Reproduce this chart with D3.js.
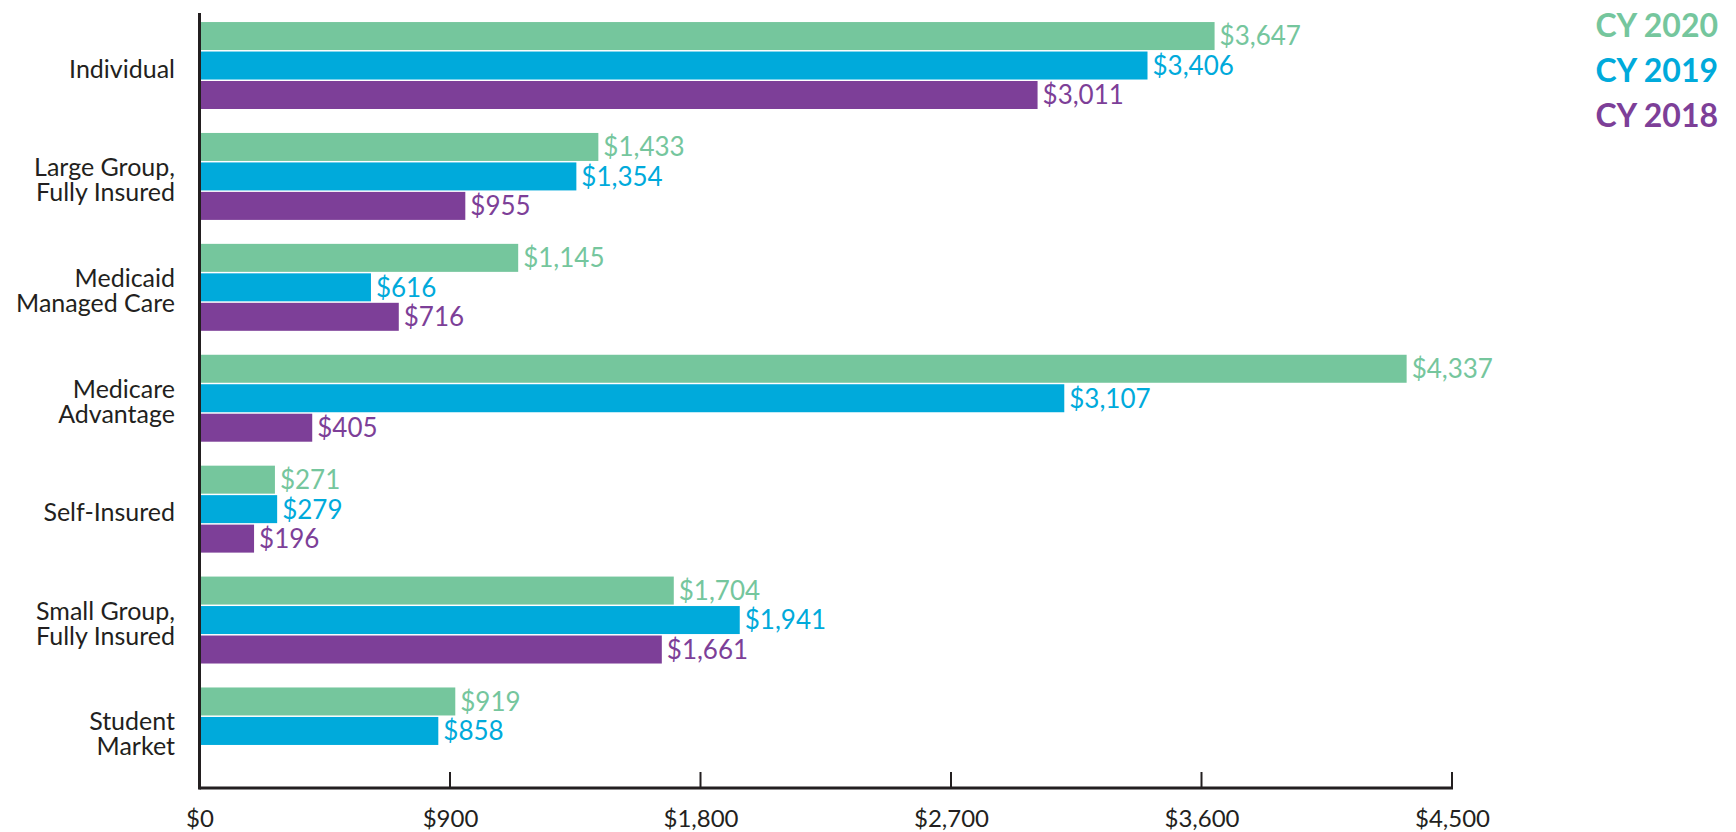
<!DOCTYPE html>
<html>
<head>
<meta charset="utf-8">
<script src="https://cdn.jsdelivr.net/npm/d3@7"></script>
<style>
  html, body { margin: 0; padding: 0; background: #fff; }
  svg { display: block; }
  text { font-family: Lato, "Open Sans", sans-serif; }
</style>
</head>
<body>
<svg id="chart" width="1736" height="832"></svg>
<script>
const categories = [
  ["Individual"],
  ["Large Group,", "Fully Insured"],
  ["Medicaid", "Managed Care"],
  ["Medicare", "Advantage"],
  ["Self-Insured"],
  ["Small Group,", "Fully Insured"],
  ["Student", "Market"]
];
const seriesNames = ["CY 2020", "CY 2019", "CY 2018"];
const seriesColors = ["#75C69D", "#00AADB", "#7D3F98"];
const values2020 = [3647, 1433, 1145, 4337, 271, 1704, 919];
const values2019 = [3406, 1354, 616, 3107, 279, 1941, 858];
const values2018 = [3011, 955, 716, 405, 196, 1661, null];
const tickValues = [0, 900, 1800, 2700, 3600, 4500];

const seriesValues = [values2020, values2019, values2018];
const catKeys = categories.map(c => c.join(" "));

const svg = d3.select("#chart");
const x0 = 199.5, x1 = 1452;
const x = d3.scaleLinear().domain([0, 4500]).range([x0, x1]);
const y = d3.scaleBand().domain(catKeys).range([13, 788])
  .paddingInner(0.216).paddingOuter(0.102).align(0.4);
const ys = d3.scaleBand().domain(seriesNames).range([0, y.bandwidth()]).paddingInner(0.05);

const fmt = v => "$" + d3.format(",")(v);

// bars
seriesNames.forEach((s, si) => {
  const data = catKeys.map((k, i) => ({ k, v: seriesValues[si][i] })).filter(d => d.v != null);
  const g = svg.append("g");
  g.selectAll("rect").data(data).join("rect")
    .attr("x", x(0))
    .attr("y", d => y(d.k) + ys(s))
    .attr("width", d => x(d.v) - x(0))
    .attr("height", ys.bandwidth())
    .attr("fill", seriesColors[si]);
  g.selectAll("text").data(data).join("text")
    .attr("x", d => x(d.v) + 5)
    .attr("y", d => y(d.k) + ys(s) + ys.bandwidth() / 2)
    .attr("dy", "0.36em")
    .attr("fill", seriesColors[si])
    .attr("font-size", 26)
    .text(d => fmt(d.v));
});

// category labels
const catG = svg.append("g");
categories.forEach((lines, i) => {
  const cy = y(catKeys[i]) + y.bandwidth() / 2 + 3;
  const lh = 25;
  const t = catG.append("text")
    .attr("text-anchor", "end")
    .attr("fill", "#231F20")
    .attr("font-size", 25);
  lines.forEach((ln, j) => {
    t.append("tspan")
      .attr("x", 175)
      .attr("y", cy + (j - (lines.length - 1) / 2) * lh)
      .attr("dy", "0.36em")
      .text(ln);
  });
});

// x axis
const axisY = 788;
const axis = d3.axisBottom(x).tickValues(tickValues).tickSize(0).tickFormat(d => "$" + d3.format(",")(d));
const ax = svg.append("g").attr("transform", `translate(0,${axisY})`).call(axis);
ax.select(".domain").remove();
ax.selectAll("text")
  .attr("font-size", 24)
  .attr("fill", "#231F20")
  .attr("y", 29)
  .attr("dy", "0.4em")
  .style("font-family", "Lato, sans-serif");

// inward tick marks
svg.append("g").selectAll("line").data(tickValues.filter(d => d > 0)).join("line")
  .attr("x1", d => x(d)).attr("x2", d => x(d))
  .attr("y1", axisY - 16).attr("y2", axisY)
  .attr("stroke", "#231F20").attr("stroke-width", 2);

// axis lines
svg.append("line")
  .attr("x1", x0).attr("x2", x1 + 1)
  .attr("y1", axisY).attr("y2", axisY)
  .attr("stroke", "#231F20").attr("stroke-width", 3);
svg.append("line")
  .attr("x1", x0).attr("x2", x0)
  .attr("y1", 13).attr("y2", axisY + 1.5)
  .attr("stroke", "#231F20").attr("stroke-width", 3);

// legend
svg.append("g").selectAll("text").data(seriesNames).join("text")
  .attr("x", 1718)
  .attr("y", (d, i) => 37 + i * 45)
  .attr("text-anchor", "end")
  .attr("font-size", 32)
  .attr("font-weight", "bold")
  .attr("fill", (d, i) => seriesColors[i])
  .text(d => d);
</script>
</body>
</html>
